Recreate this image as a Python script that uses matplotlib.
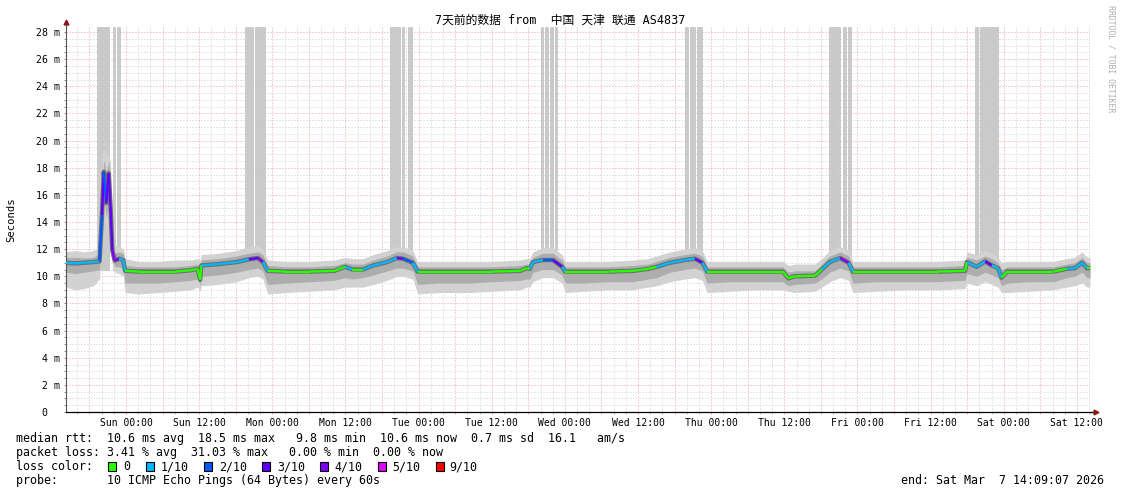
import matplotlib
matplotlib.use("Agg")
import matplotlib.pyplot as plt
from matplotlib.collections import LineCollection
from matplotlib.patches import Rectangle
import numpy as np

# ---------------- data ----------------
TITLE = "7天前的数据 from  中国 天津 联通 AS4837"

# hours since start of window (Sat Feb 28 14:09:07 -> Sat Mar 7 14:09:07)
hours = [0.0, 1.5, 3.0, 4.5, 5.5, 5.9, 6.2, 6.6, 7.0, 7.3, 7.6, 8.0, 8.7, 9.4, 9.7,
         12.0, 15.0, 18.0, 20.5, 21.6, 22.0, 22.2, 25.0, 28.0, 30.0, 31.5, 32.3, 33.1,
         36.0, 40.0, 44.0, 45.8, 47.0, 48.7, 50.4, 52.7, 54.3, 55.3, 56.9, 57.7,
         61.0, 66.0, 70.0, 74.5, 75.6, 76.1, 76.6, 78.2, 79.9, 81.4, 81.9,
         85.0, 89.0, 93.0, 95.5, 96.9, 99.1, 101.5, 103.2, 104.4, 105.2,
         109.0, 113.0, 117.6, 118.5, 119.5, 122.9, 124.0, 125.3, 127.0, 128.4, 129.1,
         133.0, 138.0, 143.0, 147.5, 147.8, 149.4, 150.8, 151.9, 152.9, 153.5, 154.4,
         158.0, 162.0, 164.2, 165.5, 166.7, 167.5, 168.0]

median_ms = [11.00, 10.95, 11.00, 11.05, 11.10, 14.5, 17.7, 15.4, 17.6, 15.2, 11.9, 11.15, 11.30, 11.20, 10.40,
             10.35, 10.35, 10.35, 10.45, 10.55, 9.75, 10.80, 10.90, 11.05, 11.25, 11.35, 11.05, 10.40,
             10.35, 10.35, 10.40, 10.70, 10.50, 10.50, 10.80, 11.05, 11.35, 11.30, 11.00, 10.35,
             10.35, 10.35, 10.35, 10.40, 10.60, 10.55, 11.05, 11.20, 11.20, 10.70, 10.35,
             10.35, 10.35, 10.40, 10.55, 10.70, 11.00, 11.20, 11.30, 11.00, 10.35,
             10.35, 10.35, 10.35, 9.85, 10.00, 10.05, 10.50, 11.05, 11.35, 11.00, 10.35,
             10.35, 10.35, 10.35, 10.40, 11.05, 10.70, 11.10, 10.80, 10.60, 9.90, 10.35,
             10.35, 10.35, 10.55, 10.60, 11.00, 10.60, 10.60]

loss_tenths = [1, 1, 1, 1, 2, 3, 2, 3, 3, 3, 4, 4, 1, 1, 0,
               0, 0, 0, 0, 0, 0, 1, 1, 1, 3, 4, 1, 0,
               0, 0, 0, 1, 0, 1, 1, 1, 3, 2, 1, 0,
               0, 0, 0, 0, 0, 1, 1, 2, 3, 1, 0,
               0, 0, 0, 0, 1, 1, 1, 3, 1, 0,
               0, 0, 0, 0, 0, 0, 1, 1, 4, 1, 0,
               0, 0, 0, 0, 1, 1, 3, 1, 1, 0, 0,
               0, 0, 1, 1, 1, 0, 0]

smoke_outer_lo = [9.2, 9.0, 9.1, 9.3, 9.8, 12.0, 14.8, 13.2, 14.8, 12.8, 10.8, 10.3, 10.2, 10.0, 8.8,
                  8.7, 8.8, 8.9, 9.0, 9.2, 8.9, 9.3, 9.4, 9.6, 9.9, 10.0, 9.8, 8.7,
                  8.8, 8.9, 9.0, 9.2, 9.2, 9.2, 9.4, 9.7, 10.0, 10.0, 9.8, 8.7,
                  8.8, 8.8, 8.9, 9.0, 9.2, 9.2, 9.6, 9.9, 9.9, 9.5, 8.8,
                  8.9, 9.0, 9.0, 9.2, 9.3, 9.6, 9.8, 9.9, 9.7, 8.8,
                  8.9, 9.0, 9.0, 8.9, 8.8, 8.9, 9.2, 9.6, 9.9, 9.7, 8.8,
                  8.9, 9.0, 9.0, 9.1, 9.5, 9.3, 9.6, 9.4, 9.2, 8.8, 8.8,
                  8.9, 9.0, 9.2, 9.3, 9.5, 9.2, 9.2]

smoke_mid_lo = [10.3, 10.2, 10.3, 10.4, 10.5, 13.0, 16.0, 14.3, 15.9, 13.8, 11.3, 10.7, 10.7, 10.6, 9.5,
                9.5, 9.5, 9.6, 9.7, 9.8, 9.3, 10.0, 10.1, 10.3, 10.5, 10.6, 10.4, 9.4,
                9.5, 9.6, 9.7, 9.9, 9.8, 9.9, 10.1, 10.4, 10.6, 10.6, 10.4, 9.4,
                9.5, 9.5, 9.6, 9.7, 9.8, 9.8, 10.3, 10.5, 10.5, 10.1, 9.5,
                9.5, 9.6, 9.6, 9.8, 9.9, 10.3, 10.5, 10.6, 10.4, 9.5,
                9.6, 9.6, 9.6, 9.3, 9.4, 9.5, 9.8, 10.3, 10.6, 10.4, 9.5,
                9.6, 9.6, 9.6, 9.7, 10.2, 10.0, 10.3, 10.1, 9.9, 9.3, 9.5,
                9.6, 9.6, 9.9, 10.0, 10.3, 9.9, 9.9]

smoke_mid_hi = [11.4, 11.4, 11.35, 11.4, 11.6, 16.5, 18.6, 17.6, 18.5, 17.0, 12.8, 11.7, 11.8, 11.7, 10.8,
                10.7, 10.7, 10.7, 10.8, 10.9, 10.6, 11.2, 11.3, 11.5, 11.7, 11.8, 11.6, 10.8,
                10.7, 10.7, 10.8, 11.0, 10.9, 10.9, 11.2, 11.5, 11.8, 11.8, 11.5, 10.7,
                10.7, 10.7, 10.7, 10.8, 10.9, 10.9, 11.4, 11.7, 11.7, 11.2, 10.7,
                10.7, 10.7, 10.8, 10.9, 11.1, 11.4, 11.6, 11.7, 11.5, 10.7,
                10.7, 10.7, 10.7, 10.3, 10.4, 10.4, 10.9, 11.5, 11.8, 11.5, 10.7,
                10.7, 10.7, 10.7, 10.8, 11.4, 11.2, 11.5, 11.3, 11.0, 10.5, 10.7,
                10.7, 10.7, 10.9, 11.0, 11.4, 11.0, 11.0]

smoke_outer_hi = [11.8, 11.9, 11.8, 11.9, 12.2, 19.0, 19.4, 18.9, 19.0, 18.4, 13.8, 12.3, 12.2, 12.0, 11.3,
                  11.1, 11.1, 11.2, 11.2, 11.3, 11.2, 11.6, 11.7, 11.9, 12.2, 12.3, 12.0, 11.2,
                  11.1, 11.1, 11.2, 11.4, 11.3, 11.3, 11.6, 11.9, 12.2, 12.2, 11.9, 11.1,
                  11.1, 11.1, 11.1, 11.2, 11.3, 11.3, 11.8, 12.1, 12.1, 11.6, 11.1,
                  11.1, 11.1, 11.2, 11.3, 11.5, 11.8, 12.0, 12.1, 11.9, 11.1,
                  11.1, 11.1, 11.1, 10.8, 10.9, 10.9, 11.3, 11.9, 12.2, 11.9, 11.1,
                  11.1, 11.1, 11.1, 11.2, 11.8, 11.6, 11.9, 11.7, 11.4, 11.0, 11.1,
                  11.1, 11.1, 11.3, 11.4, 11.8, 11.4, 11.4]

# heavy-loss periods (grey full-height bars), hours since start
loss_bar_start = [5.09, 6.07, 7.71, 8.37, 29.36, 31.00, 31.66, 53.15, 53.64, 55.12, 56.10,
                  77.92, 78.58, 79.40, 80.20, 101.54, 102.36, 103.50,
                  125.16, 125.82, 127.46, 128.28, 149.10, 149.90, 151.25]
loss_bar_end = [5.91, 7.05, 7.96, 8.86, 30.68, 31.50, 32.64, 53.48, 54.79, 55.45, 56.76,
                78.25, 79.07, 79.89, 80.54, 102.03, 103.18, 104.33,
                125.66, 126.97, 127.95, 128.77, 149.60, 151.10, 152.90]

xtick_labels = ["Sun 00:00", "Sun 12:00", "Mon 00:00", "Mon 12:00", "Tue 00:00", "Tue 12:00",
                "Wed 00:00", "Wed 12:00", "Thu 00:00", "Thu 12:00", "Fri 00:00", "Fri 12:00",
                "Sat 00:00", "Sat 12:00"]
ytick_values = [0, 2, 4, 6, 8, 10, 12, 14, 16, 18, 20, 22, 24, 26, 28]

loss_legend_labels = ["0", "1/10", "2/10", "3/10", "4/10", "5/10", "9/10"]
loss_legend_tenths = [0, 1, 2, 3, 4, 5, 9]
loss_color_map = {0: "#26ff00", 1: "#00b8ff", 2: "#0059ff", 3: "#5e00ff",
                  4: "#7e00ff", 5: "#dd00ff", 9: "#ff0000"}

stats_line1 = "median rtt:  10.6 ms avg  18.5 ms max   9.8 ms min  10.6 ms now  0.7 ms sd  16.1   am/s"
stats_line2 = "packet loss: 3.41 % avg  31.03 % max   0.00 % min  0.00 % now"
stats_line4 = "probe:       10 ICMP Echo Pings (64 Bytes) every 60s"
end_text = "end: Sat Mar  7 14:09:07 2026"

# ---------------- figure layout ----------------
W, H = 1121, 494
X0, X1 = 66, 1090          # plot area in pixels
Y0, YTOP = 412, 27
PX_PER_MS = 13.57
fig = plt.figure(figsize=(W / 100, H / 100), dpi=100)
fig.patch.set_facecolor("white")
ax = fig.add_axes([X0 / W, (H - Y0) / H, (X1 - X0) / W, (Y0 - YTOP) / H])
ymax = (Y0 - YTOP) / PX_PER_MS
ax.set_xlim(0, 168)
ax.set_ylim(0, ymax)
ax.set_facecolor("white")
mono = "DejaVu Sans Mono"

# grid
first_label = 9.848          # Sun 00:00 relative to window start
major_x = np.arange(first_label - 6, 168, 6)
minor_x = [t for t in np.arange(first_label - 8, 168, 2) if t >= 0]
grid_ls = (0, (1, 2))
for t in minor_x:
    if min(abs(t - m) for m in major_x) > 0.1:
        ax.axvline(t, color="#cfcfcf", lw=0.72, ls=grid_ls, zorder=0)
for t in major_x:
    ax.axvline(t, color="#f2a0a0", lw=0.72, ls=grid_ls, zorder=0.5)
for v in np.arange(0.5, ymax, 0.5):
    if abs(v / 2 - round(v / 2)) > 1e-6:
        ax.axhline(v, color="#cfcfcf", lw=0.72, ls=grid_ls, zorder=0)
for v in ytick_values[1:]:
    ax.axhline(v, color="#f2a0a0", lw=0.72, ls=grid_ls, zorder=0.5)

# loss bars
for s, e in zip(loss_bar_start, loss_bar_end):
    ax.bar(s, ymax - 10.5, width=e - s, bottom=10.5, align="edge",
           color="#cacaca", edgecolor="#b8b8b8", linewidth=0.4, zorder=1)

# smoke
ax.fill_between(hours, smoke_outer_lo, smoke_outer_hi, color="#d2d2d2", lw=0, zorder=2)
ax.fill_between(hours, smoke_mid_lo, smoke_mid_hi, color="#adadad", lw=0, zorder=2.1)
ax.plot(hours, median_ms, color="#6e6e6e", lw=3.2, zorder=2.2, solid_capstyle="butt")

# median coloured by loss
pts = np.column_stack([hours, median_ms])
segs = [pts[i:i + 2] for i in range(len(hours) - 1)]
cols = [loss_color_map[l] for l in loss_tenths[:-1]]
ax.add_collection(LineCollection(segs, colors=cols, linewidths=1.7, zorder=3,
                                 capstyle="butt"))

# axes & ticks
for sp in ["top", "right"]:
    ax.spines[sp].set_visible(False)
ax.spines["left"].set_color("#555555")
ax.spines["left"].set_linewidth(0.8)
ax.spines["bottom"].set_color("#000000")
ax.spines["bottom"].set_linewidth(0.9)
ax.set_yticks(ytick_values)
ax.set_yticklabels([f"{v} m" if v else "0  " for v in ytick_values],
                   family=mono, fontsize=7.1)
ax.set_yticks(np.arange(0.5, ymax, 0.5), minor=True)
ax.tick_params(axis="y", which="both", length=1.5, width=0.7, color="#888888",
               pad=2.9, labelcolor="#000000")
label_pos = [first_label + 12 * i for i in range(len(xtick_labels))]
ax.set_xticks(label_pos)
ax.set_xticklabels(xtick_labels, family=mono, fontsize=7.0)
ax.set_xticks(minor_x, minor=True)
ax.tick_params(axis="x", which="major", length=1.5, width=0.7, color="#f2a0a0", pad=3.0)
ax.tick_params(axis="x", which="minor", length=1.5, width=0.7, color="#bbbbbb")

# axis arrows
ax.plot([0, 0], [ymax, ymax + 0.35], color="#555555", lw=0.8, clip_on=False)
ax.plot([0], [ymax + 0.35], marker="^", color="#8b1a1a", ms=3.5, clip_on=False, zorder=5)
ax.plot([168, 168.9], [0, 0], color="#000000", lw=0.9, clip_on=False)
ax.plot([169.0], [0], marker=">", color="#8b1a1a", ms=3.5, clip_on=False, zorder=5)

# ---------------- texts ----------------
def ftext(x, y, s, **kw):
    return fig.text(x / W, 1 - y / H, s, **kw)

ftext(560.5, 20, TITLE, ha="center", va="center", fontsize=8.5,
      family=[mono, "Noto Sans CJK SC"])
ftext(11, 220, "Seconds", ha="center", va="center", rotation=90, fontsize=7.6, family=mono)
ftext(1111, 5, "RRDTOOL / TOBI OETIKER", ha="center", va="top", rotation=270,
      fontsize=5.9, family=mono, color="#b0b0b0")

leg_fs = 8.37
LEG = dict(ha="left", va="center", fontsize=leg_fs, family=mono, color="#000000")
ftext(16, 438.5, stats_line1, **LEG)
ftext(16, 452.5, stats_line2, **LEG)
ftext(16, 466.5, "loss color:", **LEG)
box_x = [108, 146, 204, 262, 320, 378, 436]
lab_x = [123, 161, 219, 277, 334, 392, 449]
for bx, lx, lab, t in zip(box_x, lab_x, loss_legend_labels, loss_legend_tenths):
    fig.add_artist(Rectangle((bx / W, 1 - (466.5 + 4.5) / H), 8 / W, 9 / H,
                             transform=fig.transFigure, facecolor=loss_color_map[t],
                             edgecolor="#000000", linewidth=0.8))
    ftext(lx, 466.5, lab, **LEG)
ftext(16, 480.5, stats_line4, **LEG)
ftext(1104, 480.5, end_text, ha="right", va="center", fontsize=leg_fs, family=mono)

fig.savefig("out.png", dpi=100, facecolor="white")
